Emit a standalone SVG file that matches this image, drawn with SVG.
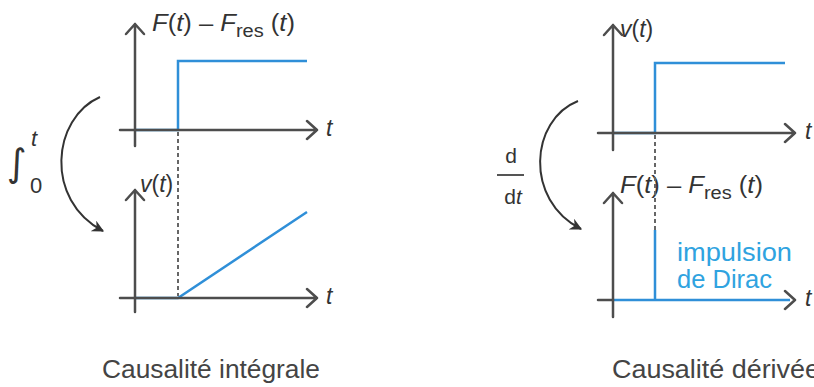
<svg xmlns="http://www.w3.org/2000/svg" width="814" height="387" viewBox="0 0 814 387">
<defs>
<style>
.ax{stroke:#4d4d4d;stroke-width:2.5;fill:none;stroke-linecap:round;stroke-linejoin:round}
.bl{stroke:#2f8fd8;stroke-width:2.5;fill:none}
.dot{stroke:#666;stroke-width:2;stroke-dasharray:4 3;fill:none}
.cur{stroke:#333;stroke-width:2;fill:none}
text{font-family:"Liberation Sans",Arial,sans-serif;fill:#333}
.lab{font-size:23px}
.it{font-style:italic}
.cap{font-size:25px;fill:#444}
.blue{fill:#2fa3e0;font-size:25px}
</style>
<marker id="ah" viewBox="0 0 10 10" refX="9" refY="5" markerWidth="12" markerHeight="12" orient="auto" markerUnits="userSpaceOnUse">
<path d="M0,0 L10,5 L0,10 L3,5 Z" fill="#333"/>
</marker>
</defs>
<rect width="814" height="387" fill="#fff"/>

<g id="left-top">
<path class="bl" d="M135,130 H178 V61 H307"/>
<path class="ax" d="M120,130 H317 M307,121 L317,130 L307,139"/>
<path class="ax" d="M135,146 V24 M126,34 L135,24 L144,34"/>
<text class="lab" x="152" y="31" textLength="143" lengthAdjust="spacingAndGlyphs"><tspan class="it">F</tspan>(<tspan class="it">t</tspan>) – <tspan class="it">F</tspan><tspan font-size="18" dy="6">res</tspan><tspan dy="-6"> (</tspan><tspan class="it">t</tspan>)</text>
<text class="lab it" x="326" y="136">t</text>
</g>

<g id="left-bottom">
<path class="bl" d="M135,298 H178 L307,212"/>
<path class="ax" d="M120,298 H317 M307,289 L317,298 L307,307"/>
<path class="ax" d="M135,312 V190 M126,200 L135,190 L144,200"/>
<text class="lab" x="140" y="192"><tspan class="it">v</tspan>(<tspan class="it">t</tspan>)</text>
<text class="lab it" x="326" y="304">t</text>
</g>

<g id="right-top">
<path class="bl" d="M613,133 H655 V63 H785"/>
<path class="ax" d="M598,133 H795 M785,124 L795,133 L785,142"/>
<path class="ax" d="M613,150 V25 M604,35 L613,25 L622,35"/>
<text class="lab" x="620" y="37"><tspan class="it">v</tspan>(<tspan class="it">t</tspan>)</text>
<text class="lab it" x="805" y="139">t</text>
</g>

<g id="right-bottom">
<path class="bl" d="M613,300 H790 M655,300 V230"/>
<path class="ax" d="M598,300 H613 M785,291 L795,300 L785,309"/>
<path class="ax" d="M613,317 V193 M604,203 L613,193 L622,203"/>
<text class="lab" x="620" y="193" textLength="143" lengthAdjust="spacingAndGlyphs"><tspan class="it">F</tspan>(<tspan class="it">t</tspan>) – <tspan class="it">F</tspan><tspan font-size="18" dy="6">res</tspan><tspan dy="-6"> (</tspan><tspan class="it">t</tspan>)</text>
<text class="blue" x="677" y="261" textLength="115" lengthAdjust="spacingAndGlyphs">impulsion</text>
<text class="blue" x="677" y="288" textLength="95" lengthAdjust="spacingAndGlyphs">de Dirac</text>
<text class="lab it" x="805" y="306">t</text>
</g>

<g id="connectors">
<path class="dot" d="M178,132 V296"/>
<path class="dot" d="M655,135 V230"/>
<path class="cur" d="M100,97 C52,118 44,200 103,231" marker-end="url(#ah)"/>
<path class="cur" d="M578,101 C530,120 524,200 581,229" marker-end="url(#ah)"/>
</g>

<g id="operators">
<text x="7" y="176" font-size="38" style="font-family:'DejaVu Sans',sans-serif">∫</text>
<text class="it" x="31" y="146" font-size="22">t</text>
<text x="30" y="193" font-size="22">0</text>
<text x="511" y="163" font-size="21" text-anchor="middle">d</text>
<line x1="497" y1="175" x2="524" y2="175" stroke="#555" stroke-width="2"/>
<text x="513" y="204" font-size="21" text-anchor="middle">d<tspan class="it">t</tspan></text>
</g>

<g id="captions">
<text class="cap" x="102" y="378" textLength="218" lengthAdjust="spacingAndGlyphs">Causalité intégrale</text>
<text class="cap" x="612" y="378" textLength="208" lengthAdjust="spacingAndGlyphs">Causalité dérivée</text>
</g>
</svg>
